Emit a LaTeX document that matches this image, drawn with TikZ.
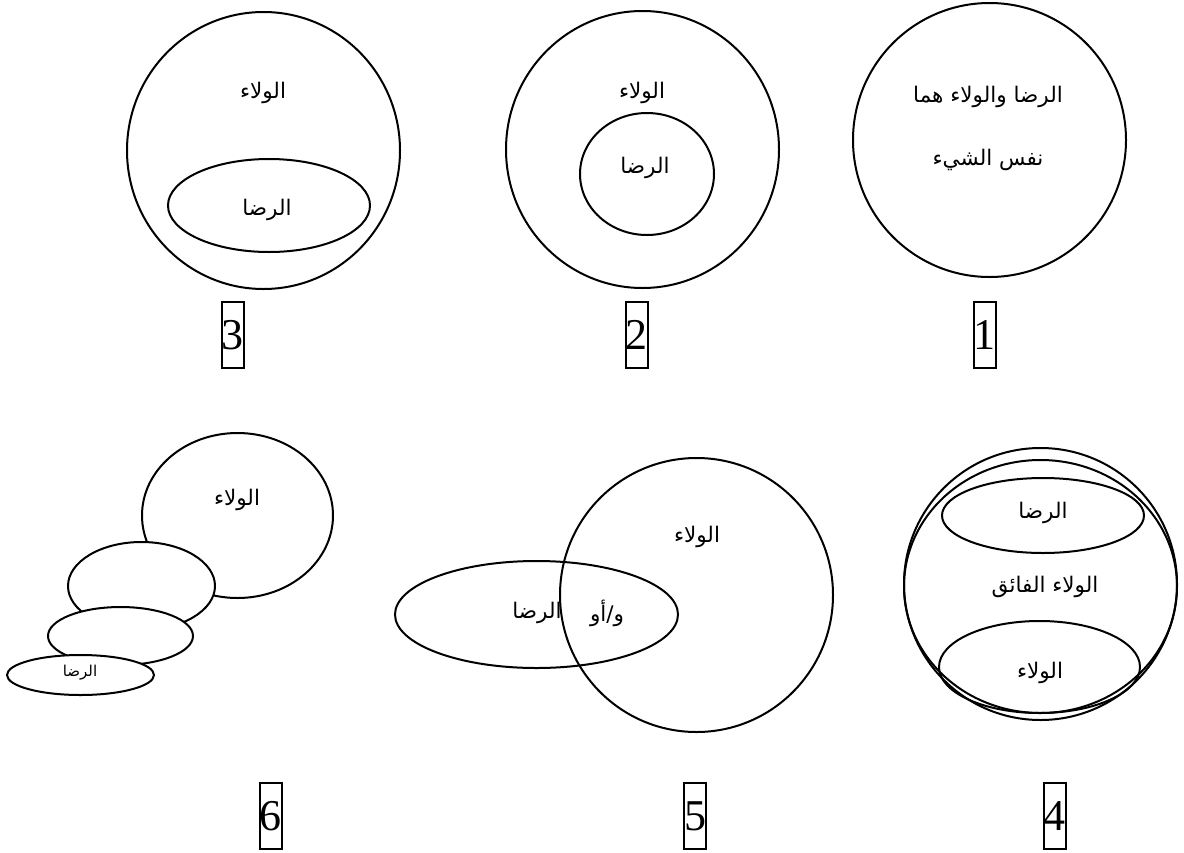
\documentclass[tikz,border=0pt]{standalone}
\usepackage{fontspec}
\setmainfont{Liberation Serif}
\newfontfamily\arabicfont[Script=Arabic]{DejaVu Sans}
\TeXXeTstate=1
\usetikzlibrary{positioning}
\newcommand{\artext}[1]{\beginR #1\endR}

\tikzset{
  setline/.style={line width=2pt},
  blank/.style={setline, fill=white},
  lbl/.style={font=\arabicfont\fontsize{21.5}{24}\selectfont, inner sep=1pt},
  smalllbl/.style={font=\arabicfont\fontsize{15}{17}\selectfont, inner sep=1pt},
  numbox/.style={draw, line width=2pt, inner sep=0pt, minimum width=22pt,
    minimum height=66pt, font=\fontsize{44}{44}\selectfont}
}

\begin{document}
\begin{tikzpicture}[x=1pt, y=-1pt]
  \useasboundingbox (0,0) rectangle (1184,852);
  % 1: the same thing
  \draw[setline] (989.5,140) ellipse (136.5 and 137);
  \node[lbl] (same-a) at (988,97) {\artext{الرضا والولاء هما}};
  \node[lbl] (same-b) at (988,160) {\artext{نفس الشيء}};
  \node[numbox] (num1) at (984.5,335) {1};
  % 2: satisfaction inside loyalty
  \draw[setline] (642.5,149.5) ellipse (136.5 and 138.5);
  \draw[setline] (647,174) ellipse (67 and 61);
  \node[lbl] (inner-loy) at (642,93) {\artext{الولاء}};
  \node[lbl] (inner-sat) at (645,168) {\artext{الرضا}};
  \node[numbox] (num2) at (636.5,335) {2};
  % 3: satisfaction at the bottom of loyalty
  \draw[setline] (263.5,150.5) ellipse (136.5 and 138.5);
  \draw[setline] (269,205.5) ellipse (101 and 46.5);
  \node[lbl] (low-loy) at (263,93) {\artext{الولاء}};
  \node[lbl] (low-sat) at (267,210) {\artext{الرضا}};
  \node[numbox] (num3) at (232.5,335) {3};
  % 4: ultimate loyalty
  \draw[setline] (1040.5,584) ellipse (136.5 and 136);
  \draw[setline] (1040.5,586.5) ellipse (136.5 and 126.5);
  \draw[setline] (1043,515.5) ellipse (101 and 37.5);
  \draw[setline] (1039.5,667) ellipse (100.5 and 46);
  \node[lbl] (ult-sat) at (1043,513) {\artext{الرضا}};
  \node[lbl] (ult-mid) at (1045,587) {\artext{الولاء الفائق}};
  \node[lbl] (ult-loy) at (1040,673) {\artext{الولاء}};
  \node[numbox] (num4) at (1054.5,816) {4};
  % 5: overlap
  \draw[setline] (696.5,595) ellipse (136.5 and 137);
  \draw[setline] (536.5,614.5) ellipse (141.5 and 53.5);
  \node[lbl] (ovl-loy) at (697,537) {\artext{الولاء}};
  \node[lbl] (ovl-or) at (607,613) {\artext{و/أو}};
  \node[lbl] (ovl-sat) at (537,613) {\artext{الرضا}};
  \node[numbox] (num5) at (695,816) {5};
  % 6: shrinking chain
  \draw[setline] (237.5,515.5) ellipse (95.5 and 82.5);
  \filldraw[blank] (141.5,586) ellipse (73.5 and 44);
  \filldraw[blank] (120.5,636) ellipse (72.5 and 29);
  \filldraw[blank] (80.5,675) ellipse (73.5 and 20);
  \node[lbl] (chain-loy) at (237,500) {\artext{الولاء}};
  \node[smalllbl] (chain-sat) at (80,673) {\artext{الرضا}};
  \node[numbox] (num6) at (270.5,816) {6};
\end{tikzpicture}
\end{document}
